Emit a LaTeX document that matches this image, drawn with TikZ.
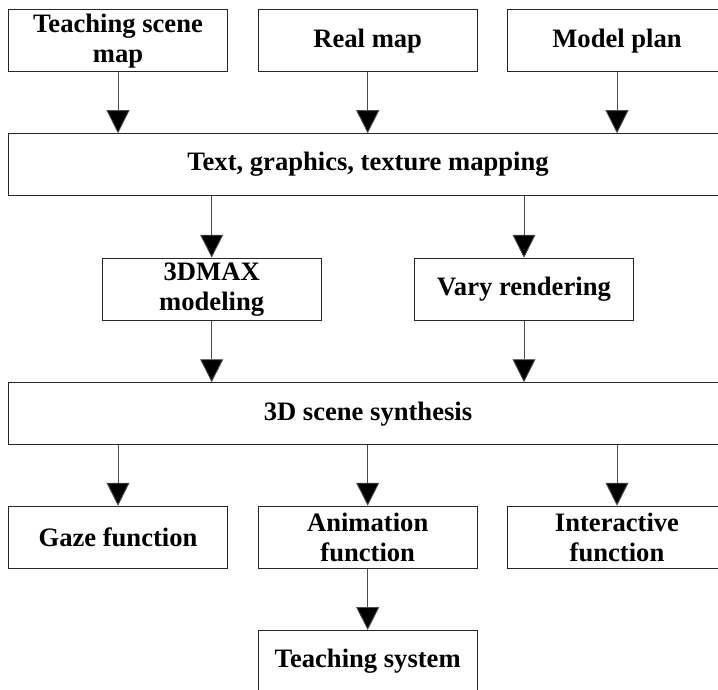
\documentclass[tikz,border=0pt]{standalone}
\usepackage{fontspec}
\setmainfont{Liberation Serif}
\usetikzlibrary{arrows.meta}
\begin{document}
\begin{tikzpicture}[x=1pt,y=-1pt,
  box/.style={draw=black!85,line width=0.9pt,inner sep=0pt,minimum width=219pt,minimum height=62pt,align=center,
    font=\fontsize{26.6}{30}\selectfont\bfseries},
  wide/.style={box,minimum width=720pt},
  arr/.style={draw=black!70,line width=0.9pt,-{Triangle[width=23pt,length=23pt,fill=black]}}]
\useasboundingbox (0,0) rectangle (718,690);
\node[box] (tsm) at (118,40.8) {Teaching scene\\map};
\node[box] (real) at (367.7,40.8) {Real map};
\node[box] (model) at (617,40.8) {Model plan};
\node[wide] (tex) at (368,164.7) {Text, graphics, texture mapping};
\node[box] (max) at (211.7,289.2) {3DMAX\\modeling};
\node[box] (vary) at (524,289.2) {Vary rendering};
\node[wide] (scene) at (368,413.7) {3D scene synthesis};
\node[box] (gaze) at (118,537.2) {Gaze function};
\node[box] (anim) at (367.7,537.2) {Animation\\function};
\node[box] (inter) at (617,537.2) {Interactive\\function};
\node[box] (teach) at (367.7,661.5) {Teaching system};
\draw[arr] (tsm.south) -- (tsm.south |- tex.north);
\draw[arr] (real.south) -- (real.south |- tex.north);
\draw[arr] (model.south) -- (model.south |- tex.north);
\draw[arr] (max.north |- tex.south) -- (max.north);
\draw[arr] (vary.north |- tex.south) -- (vary.north);
\draw[arr] (max.south) -- (max.south |- scene.north);
\draw[arr] (vary.south) -- (vary.south |- scene.north);
\draw[arr] (gaze.north |- scene.south) -- (gaze.north);
\draw[arr] (anim.north |- scene.south) -- (anim.north);
\draw[arr] (inter.north |- scene.south) -- (inter.north);
\draw[arr] (anim.south) -- (teach.north);
\end{tikzpicture}
\end{document}
